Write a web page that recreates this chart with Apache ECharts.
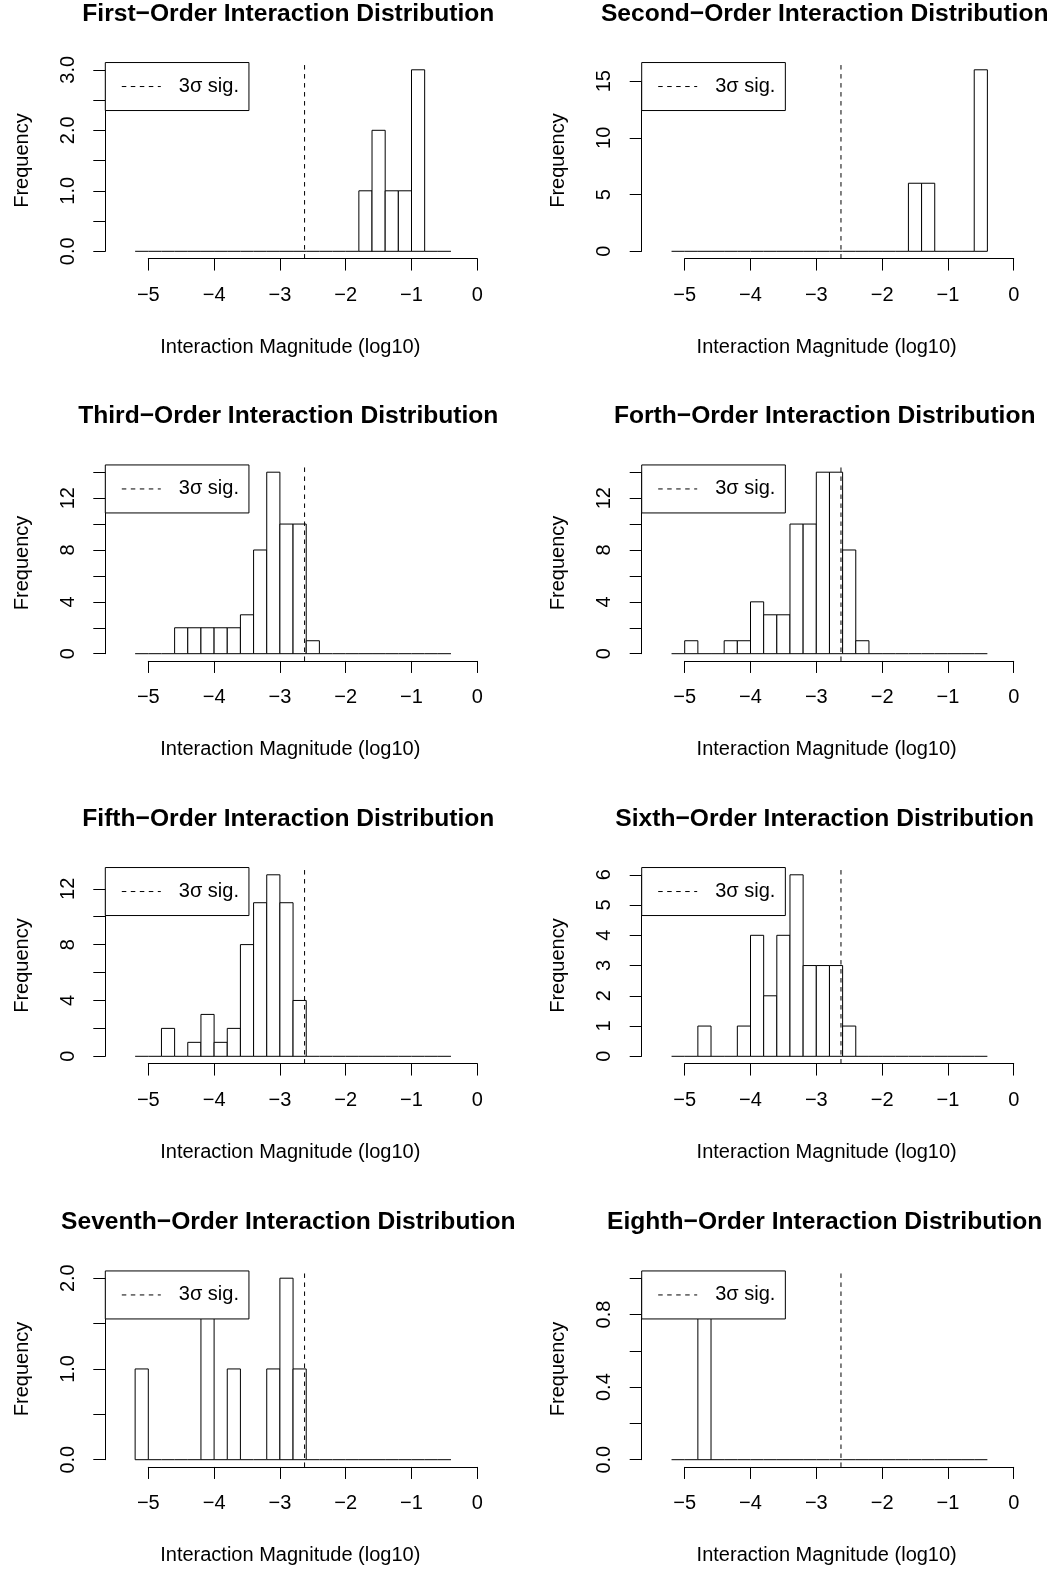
<!DOCTYPE html>
<html>
<head>
<meta charset="utf-8">
<title>Interaction Distributions</title>
<script src="https://cdn.jsdelivr.net/npm/echarts@6/dist/echarts.min.js"></script>
<style>
  html, body { margin: 0; padding: 0; background: #fff; }
  #chart { width: 1063px; height: 1569px; }
</style>
</head>
<body>
<div id="chart"></div>
<script>
// histogram bins: left edges in log10 magnitude, every bin is 0.2 wide
const binStarts = [-5.2, -5.0, -4.8, -4.6, -4.4, -4.2, -4.0, -3.8, -3.6, -3.4, -3.2, -3.0,
  -2.8, -2.6, -2.4, -2.2, -2.0, -1.8, -1.6, -1.4, -1.2, -1.0, -0.8, -0.6];
const binWidth = 0.2;

const titles = [
  'First\u2212Order Interaction Distribution',
  'Second\u2212Order Interaction Distribution',
  'Third\u2212Order Interaction Distribution',
  'Forth\u2212Order Interaction Distribution',
  'Fifth\u2212Order Interaction Distribution',
  'Sixth\u2212Order Interaction Distribution',
  'Seventh\u2212Order Interaction Distribution',
  'Eighth\u2212Order Interaction Distribution'
];

// counts per bin, one array per order
const firstOrder   = [0, 0, 0, 0, 0, 0, 0, 0, 0, 0, 0, 0, 0, 0, 0, 0, 0, 1, 2, 1, 1, 3, 0, 0];
const secondOrder  = [0, 0, 0, 0, 0, 0, 0, 0, 0, 0, 0, 0, 0, 0, 0, 0, 0, 0, 6, 6, 0, 0, 0, 16];
const thirdOrder   = [0, 0, 0, 2, 2, 2, 2, 2, 3, 8, 14, 10, 10, 1, 0, 0, 0, 0, 0, 0, 0, 0, 0, 0];
const forthOrder   = [0, 1, 0, 0, 1, 1, 4, 3, 3, 10, 10, 14, 14, 8, 1, 0, 0, 0, 0, 0, 0, 0, 0, 0];
const fifthOrder   = [0, 0, 2, 0, 1, 3, 1, 2, 8, 11, 13, 11, 4, 0, 0, 0, 0, 0, 0, 0, 0, 0, 0, 0];
const sixthOrder   = [0, 0, 1, 0, 0, 1, 4, 2, 4, 6, 3, 3, 3, 1, 0, 0, 0, 0, 0, 0, 0, 0, 0, 0];
const seventhOrder = [1, 0, 0, 0, 0, 2, 0, 1, 0, 0, 1, 2, 1, 0, 0, 0, 0, 0, 0, 0, 0, 0, 0, 0];
const eighthOrder  = [0, 0, 1, 0, 0, 0, 0, 0, 0, 0, 0, 0, 0, 0, 0, 0, 0, 0, 0, 0, 0, 0, 0, 0];
const allCounts = [firstOrder, secondOrder, thirdOrder, forthOrder,
  fifthOrder, sixthOrder, seventhOrder, eighthOrder];

const sigThreshold = -2.625;   // 3 sigma cut, log10
const sigName = '3\u03c3 sig.';

const xTicks = [-5, -4, -3, -2, -1, 0];
const xTickLabels = ['\u22125', '\u22124', '\u22123', '\u22122', '\u22121', '0'];
const yTickStep = [0.5, 5, 2, 2, 2, 1, 0.5, 0.2];
const yTickTop = [3, 15, 14, 14, 12, 6, 2, 1];
const yTickLabels = [
  ['0.0', '1.0', '2.0', '3.0'],
  ['0', '5', '10', '15'],
  ['0', '4', '8', '12'],
  ['0', '4', '8', '12'],
  ['0', '4', '8', '12'],
  ['0', '1', '2', '3', '4', '5', '6'],
  ['0.0', '1.0', '2.0'],
  ['0.0', '0.4', '0.8']
];

// layout (pixels)
const rowBase = [251.3, 653.7, 1056.3, 1459.7]; // y of count 0
const colAxisX = [105.3, 641.7];                 // y-axis line
const plotH = 181.5;                             // height from 0 to max count
const axisGap = 43;                              // y-axis line -> x = -5
const xSpan = 329;                               // -5 .. 0
const FONT = '"Liberation Sans", Arial, Helvetica, sans-serif';
const INK = '#000';

function renderBin(params, api) {
  const lo = api.coord([api.value(0), 0]);
  const hi = api.coord([api.value(1), api.value(2)]);
  if (api.value(2) === 0) {
    return { type: 'line', shape: { x1: lo[0], y1: lo[1], x2: hi[0], y2: lo[1] }, style: { stroke: INK, lineWidth: 1 } };
  }
  return {
    type: 'rect',
    shape: { x: lo[0], y: hi[1], width: hi[0] - lo[0], height: lo[1] - hi[1] },
    style: { fill: '#fff', stroke: INK, lineWidth: 1 }
  };
}

const grid = [], xAxis = [], yAxis = [], series = [], legend = [], title = [];

allCounts.forEach((counts, p) => {
  const row = Math.floor(p / 2), col = p % 2;
  const base = rowBase[row];
  const left = colAxisX[col] + axisGap;
  const ymax = Math.max(...counts);
  const tickH = plotH * yTickTop[p] / ymax;

  // data grid (0 .. max count) and axis grid (0 .. last tick)
  grid.push({ left: left, top: base - plotH, width: xSpan, height: plotH });
  grid.push({ left: left, top: base - tickH, width: xSpan, height: tickH });

  xAxis.push({ gridIndex: 2 * p, type: 'value', min: -5, max: 0, show: false });
  xAxis.push({
    gridIndex: 2 * p + 1, type: 'value', min: -5, max: 0, interval: 1,
    offset: 0.04 * plotH,
    axisLine: { show: true, onZero: false, lineStyle: { color: INK, width: 1 } },
    axisTick: { show: true, length: 12, lineStyle: { color: INK, width: 1 } },
    splitLine: { show: false },
    axisLabel: {
      margin: 27, fontSize: 20, color: INK, fontFamily: FONT,
      showMinLabel: true, showMaxLabel: true,
      formatter: v => {
        const i = xTicks.findIndex(t => Math.abs(t - v) < 1e-6);
        return i < 0 ? '' : xTickLabels[i];
      }
    }
  });

  yAxis.push({
    gridIndex: 2 * p, type: 'value', min: 0, max: ymax, offset: axisGap,
    name: 'Frequency', nameLocation: 'middle', nameGap: 73, nameRotate: 90,
    nameTextStyle: { fontSize: 20, color: INK, fontFamily: FONT },
    axisLine: { show: false, onZero: false }, axisTick: { show: false },
    axisLabel: { show: false }, splitLine: { show: false }
  });
  yAxis.push({
    gridIndex: 2 * p + 1, type: 'value', min: 0, max: yTickTop[p], interval: yTickStep[p],
    offset: axisGap,
    axisLine: { show: true, onZero: false, lineStyle: { color: INK, width: 1 } },
    axisTick: { show: true, length: 12, lineStyle: { color: INK, width: 1 } },
    splitLine: { show: false },
    axisLabel: {
      rotate: 90, margin: 27, fontSize: 20, color: INK, fontFamily: FONT,
      showMinLabel: true, showMaxLabel: true,
      formatter: v => {
        const hit = yTickLabels[p].find(s => Math.abs(parseFloat(s) - v) < 1e-6);
        return hit === undefined ? '' : hit;
      }
    }
  });

  series.push({
    type: 'custom', xAxisIndex: 2 * p, yAxisIndex: 2 * p,
    data: binStarts.map((s, i) => [s, s + binWidth, counts[i]]),
    encode: { x: [0, 1], y: 2 },
    renderItem: renderBin, silent: true, z: 2
  });
  series.push({
    type: 'line', name: sigName, xAxisIndex: 2 * p, yAxisIndex: 2 * p,
    data: [[sigThreshold, -0.04 * ymax], [sigThreshold, 1.04 * ymax]],
    symbol: 'none', showSymbol: false, clip: false, silent: true, z: 3,
    itemStyle: { color: INK },
    lineStyle: { color: INK, width: 1, type: [4.5, 4.5] }
  });

  legend.push({
    left: colAxisX[col], top: base - plotH * 1.04,
    data: [sigName], selectedMode: false,
    backgroundColor: '#fff', borderColor: INK, borderWidth: 1, borderRadius: 0,
    padding: [14, 10, 14, 16], itemWidth: 39, itemHeight: 21,
    itemStyle: { opacity: 0 },
    lineStyle: { color: INK, width: 1, type: [4.5, 4.5], opacity: 1 },
    textStyle: { fontSize: 20, color: INK, fontFamily: FONT, padding: [0, 0, 0, 13] }
  });

  title.push({
    text: titles[p], left: colAxisX[col] + 183, top: base - 237.3,
    textAlign: 'center', textVerticalAlign: 'middle', padding: 0,
    textStyle: { fontSize: 24.6, fontWeight: 'bold', color: INK, fontFamily: FONT }
  });
  title.push({
    text: 'Interaction Magnitude (log10)', left: colAxisX[col] + 185, top: base + 96,
    textAlign: 'center', textVerticalAlign: 'middle', padding: 0,
    textStyle: { fontSize: 20, fontWeight: 'normal', color: INK, fontFamily: FONT }
  });
});

const chart = echarts.init(document.getElementById('chart'), null, { renderer: 'canvas' });
chart.setOption({
  backgroundColor: '#fff',
  animation: false,
  textStyle: { fontFamily: FONT },
  title: title,
  legend: legend,
  grid: grid,
  xAxis: xAxis,
  yAxis: yAxis,
  series: series
});
window.addEventListener('resize', () => chart.resize());
</script>
</body>
</html>
